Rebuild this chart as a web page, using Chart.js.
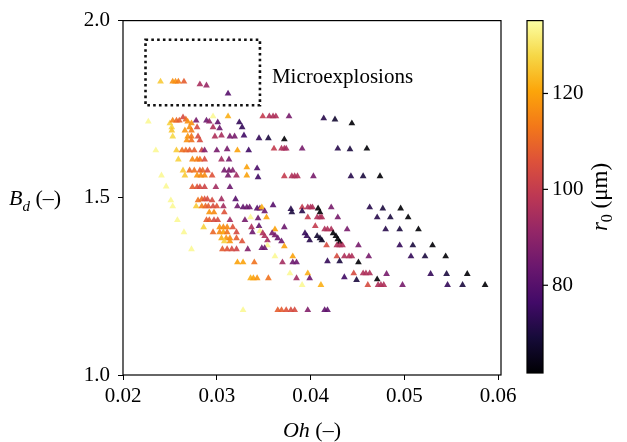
<!DOCTYPE html>
<html>
<head>
<meta charset="utf-8">
<script src="https://cdn.jsdelivr.net/npm/chart.js@4.4.1/dist/chart.umd.min.js"></script>
<style>
  html, body { margin: 0; padding: 0; background: #fff; }
  canvas { display: block; }
</style>
</head>
<body>
<canvas id="bdChart" width="627" height="442"></canvas>
<script>
// Oh number, breakup parameter B_d and droplet radius r0 (um), one entry per droplet
const ohValues = [
  0.0240, 0.0253, 0.0256, 0.0259, 0.0265, 0.0282, 0.0289, 0.0312,
  0.0227, 0.0250, 0.0253, 0.0257, 0.0260, 0.0264, 0.0267, 0.0269, 0.0273, 0.0278, 0.0289, 0.0292, 0.0296, 0.0301, 0.0312, 0.0324, 0.0349, 0.0356, 0.0360, 0.0363, 0.0377, 0.0414, 0.0426, 0.0444,
  0.0252, 0.0252, 0.0266, 0.0271, 0.0273, 0.0279, 0.0296, 0.0303, 0.0327,
  0.0253, 0.0269, 0.0273, 0.0280, 0.0268, 0.0273, 0.0282, 0.0298, 0.0305, 0.0314, 0.0319, 0.0329, 0.0345, 0.0355, 0.0372,
  0.0235, 0.0257, 0.0263, 0.0267, 0.0271, 0.0276, 0.0284, 0.0287, 0.0300, 0.0311, 0.0322, 0.0334, 0.0361, 0.0369, 0.0372, 0.0374, 0.0391, 0.0429, 0.0442, 0.0460,
  0.0259, 0.0274, 0.0279, 0.0282, 0.0287, 0.0305, 0.0313,
  0.0264, 0.0271, 0.0276, 0.0282, 0.0285, 0.0290, 0.0308, 0.0313, 0.0317, 0.0332, 0.0332, 0.0343,
  0.0241, 0.0266, 0.0279, 0.0283, 0.0287, 0.0295, 0.0312, 0.0321, 0.0344, 0.0372, 0.0380, 0.0383, 0.0386, 0.0403, 0.0443, 0.0456, 0.0474,
  0.0246, 0.0274, 0.0279, 0.0282, 0.0287, 0.0299, 0.0314,
  0.0251, 0.0280, 0.0284, 0.0287, 0.0290, 0.0295, 0.0305, 0.0320,
  0.0253, 0.0278, 0.0284, 0.0288, 0.0291, 0.0296, 0.0300, 0.0307, 0.0322, 0.0328, 0.0332, 0.0335, 0.0343, 0.0346, 0.0348, 0.0351, 0.0360, 0.0379, 0.0380, 0.0391, 0.0391, 0.0397, 0.0400, 0.0402, 0.0408, 0.0410, 0.0422, 0.0463, 0.0477, 0.0496, 0.0292, 0.0297, 0.0308,
  0.0258, 0.0289, 0.0292, 0.0297, 0.0301, 0.0314, 0.0330, 0.0344, 0.0336, 0.0353, 0.0397, 0.0407, 0.0410, 0.0412, 0.0429, 0.0471, 0.0485, 0.0504,
  0.0286, 0.0303, 0.0307, 0.0311, 0.0317, 0.0337, 0.0345, 0.0372, 0.0405, 0.0265, 0.0296, 0.0303, 0.0307, 0.0311, 0.0321, 0.0338, 0.0346, 0.0362, 0.0415, 0.0418, 0.0422, 0.0439, 0.0480, 0.0495, 0.0515,
  0.0349, 0.0351, 0.0354, 0.0359, 0.0362, 0.0365, 0.0369, 0.0394, 0.0396, 0.0399, 0.0407, 0.0410, 0.0412, 0.0424, 0.0427, 0.0429, 0.0431, 0.0305, 0.0310, 0.0314, 0.0321, 0.0308, 0.0314, 0.0327,
  0.0354, 0.0372, 0.0417, 0.0428, 0.0431, 0.0434, 0.0451, 0.0495, 0.0509, 0.0530, 0.0348, 0.0351, 0.0273, 0.0306, 0.0311, 0.0316, 0.0321, 0.0333,
  0.0362, 0.0381, 0.0428, 0.0436, 0.0441, 0.0444, 0.0462, 0.0507, 0.0522, 0.0544,
  0.0322, 0.0328, 0.0340, 0.0370, 0.0381, 0.0385, 0.0418, 0.0431, 0.0451,
  0.0378, 0.0397, 0.0446, 0.0456, 0.0459, 0.0463, 0.0481, 0.0528, 0.0545, 0.0567, 0.0336, 0.0339, 0.0343, 0.0355, 0.0385, 0.0399, 0.0436, 0.0449, 0.0471,
  0.0391, 0.0411, 0.0461, 0.0472, 0.0475, 0.0478, 0.0498, 0.0546, 0.0562, 0.0586,
  0.0328, 0.0365, 0.0369, 0.0374, 0.0379, 0.0383, 0.0397, 0.0415, 0.0418
];
const bdValues = [
  1.828, 1.828, 1.828, 1.828, 1.828, 1.820, 1.817, 1.794,
  1.715, 1.710, 1.718, 1.718, 1.718, 1.727, 1.721, 1.715, 1.710, 1.718, 1.718, 1.715, 1.730, 1.713, 1.730, 1.713, 1.730, 1.730, 1.730, 1.730, 1.730, 1.724, 1.721, 1.710,
  1.699, 1.690, 1.690, 1.699, 1.690, 1.699, 1.699, 1.696, 1.699,
  1.673, 1.673, 1.673, 1.673, 1.662, 1.662, 1.662, 1.673, 1.676, 1.673, 1.673, 1.676, 1.668, 1.668, 1.665,
  1.634, 1.634, 1.634, 1.634, 1.634, 1.634, 1.634, 1.634, 1.634, 1.637, 1.634, 1.634, 1.639, 1.639, 1.639, 1.639, 1.639, 1.639, 1.637, 1.639,
  1.608, 1.608, 1.608, 1.608, 1.608, 1.608, 1.608,
  1.577, 1.577, 1.577, 1.577, 1.577, 1.577, 1.577, 1.577, 1.577, 1.586, 1.563, 1.583,
  1.563, 1.563, 1.563, 1.563, 1.563, 1.563, 1.563, 1.563, 1.558, 1.561, 1.561, 1.561, 1.561, 1.561, 1.561, 1.561, 1.561,
  1.532, 1.530, 1.530, 1.530, 1.530, 1.530, 1.530,
  1.493, 1.493, 1.496, 1.496, 1.496, 1.493, 1.496, 1.496,
  1.476, 1.476, 1.476, 1.476, 1.476, 1.476, 1.476, 1.476, 1.476, 1.473, 1.473, 1.473, 1.470, 1.470, 1.473, 1.462, 1.479, 1.468, 1.459, 1.473, 1.462, 1.473, 1.473, 1.473, 1.470, 1.459, 1.473, 1.473, 1.470, 1.470, 1.459, 1.459, 1.459,
  1.437, 1.437, 1.437, 1.437, 1.437, 1.437, 1.437, 1.442, 1.445, 1.445, 1.445, 1.445, 1.445, 1.445, 1.445, 1.445, 1.445, 1.445,
  1.417, 1.417, 1.417, 1.417, 1.417, 1.417, 1.420, 1.417, 1.420, 1.403, 1.403, 1.403, 1.403, 1.403, 1.403, 1.403, 1.406, 1.411, 1.411, 1.411, 1.411, 1.411, 1.411, 1.411, 1.411,
  1.400, 1.392, 1.380, 1.400, 1.394, 1.386, 1.377, 1.400, 1.392, 1.380, 1.392, 1.386, 1.380, 1.400, 1.392, 1.383, 1.375, 1.386, 1.386, 1.386, 1.386, 1.377, 1.377, 1.377,
  1.366, 1.363, 1.366, 1.366, 1.366, 1.366, 1.366, 1.366, 1.366, 1.366, 1.358, 1.358, 1.355, 1.355, 1.355, 1.355, 1.355, 1.355,
  1.335, 1.335, 1.335, 1.335, 1.335, 1.335, 1.335, 1.335, 1.335, 1.335,
  1.318, 1.318, 1.318, 1.318, 1.318, 1.318, 1.321, 1.321, 1.318,
  1.287, 1.287, 1.287, 1.287, 1.287, 1.287, 1.285, 1.285, 1.285, 1.285, 1.273, 1.273, 1.273, 1.273, 1.273, 1.273, 1.276, 1.268, 1.270,
  1.254, 1.254, 1.254, 1.254, 1.254, 1.254, 1.254, 1.254, 1.254, 1.254,
  1.183, 1.183, 1.183, 1.183, 1.183, 1.183, 1.183, 1.183, 1.183
];
const r0Values = [
  126, 117, 117, 114, 108, 95, 92, 80,
  134, 127, 115, 110, 108, 104, 110, 117, 117, 86, 84, 90, 134, 82, 122, 74, 100, 96, 96, 96, 86, 72, 68, 62,
  127, 125, 118, 117, 114, 104, 96, 84, 74,
  128, 118, 113, 104, 117, 112, 104, 96, 95, 86, 86, 76, 74, 70, 62,
  134, 126, 112, 110, 108, 108, 102, 88, 86, 86, 120, 76, 100, 96, 96, 94, 86, 72, 70, 62,
  127, 116, 114, 112, 104, 94, 86,
  126, 110, 112, 108, 110, 104, 86, 86, 88, 120, 120, 78,
  134, 126, 118, 116, 116, 106, 86, 94, 76, 100, 96, 96, 96, 86, 72, 70, 62,
  134, 108, 106, 104, 102, 94, 84,
  134, 112, 110, 106, 104, 104, 94, 80,
  134, 126, 114, 110, 108, 104, 106, 94, 84, 82, 84, 84, 80, 84, 122, 84, 80, 72, 70, 100, 72, 96, 96, 96, 62, 62, 86, 72, 70, 62, 118, 116, 106,
  134, 108, 108, 104, 104, 94, 86, 84, 134, 120, 100, 96, 96, 96, 86, 72, 70, 62,
  127, 118, 116, 116, 106, 96, 82, 84, 100, 134, 110, 116, 120, 112, 104, 84, 134, 120, 96, 96, 96, 86, 72, 70, 62,
  96, 96, 94, 86, 86, 84, 84, 74, 74, 72, 68, 68, 66, 62, 62, 62, 62, 122, 118, 116, 108, 127, 118, 106,
  134, 120, 104, 96, 96, 96, 86, 74, 70, 62, 84, 84, 134, 108, 106, 104, 102, 88,
  134, 120, 104, 96, 96, 96, 86, 74, 70, 62,
  120, 120, 112, 94, 84, 84, 74, 70, 62,
  134, 122, 104, 96, 96, 96, 86, 74, 70, 62, 122, 120, 118, 112, 94, 84, 76, 70, 62,
  134, 122, 104, 96, 96, 96, 86, 74, 70, 62,
  134, 108, 108, 106, 104, 104, 88, 82, 82
];

const xTickValues = [0.02, 0.03, 0.04, 0.05, 0.06];
const yTickValues = [1.0, 1.5, 2.0];
const colorbarTicks = [80, 100, 120];
const r0Min = 61.7;
const r0Max = 135.2;

// region highlighted as microexplosions (Oh / B_d bounds)
const boxOh = [0.0224, 0.0346];
const boxBd = [1.761, 1.946];

const SERIF = '"Liberation Serif", "DejaVu Serif", serif';

// matplotlib "inferno", sampled every 0.1
const inferno = [
  [0, 0, 4], [22, 11, 57], [66, 10, 104], [106, 23, 110], [147, 38, 103],
  [188, 55, 84], [221, 81, 58], [243, 120, 25], [252, 165, 10], [246, 215, 70], [252, 255, 164]
];

function infernoAt(t) {
  t = Math.max(0, Math.min(1, t));
  const f = t * (inferno.length - 1);
  const i = Math.min(Math.floor(f), inferno.length - 2);
  const k = f - i;
  return inferno[i].map((c, j) => Math.round(c + (inferno[i + 1][j] - c) * k));
}

function r0Color(v, alpha) {
  const [r, g, b] = infernoAt((v - r0Min) / (r0Max - r0Min));
  return `rgba(${r},${g},${b},${alpha})`;
}

function partsWidth(ctx, parts) {
  let w = 0;
  for (const [text, font] of parts) {
    ctx.font = font;
    w += ctx.measureText(text).width;
  }
  return w;
}

function drawParts(ctx, parts, x, y) {
  let cx = x;
  for (const [text, font, dy] of parts) {
    ctx.font = font;
    ctx.fillText(text, cx, y + dy);
    cx += ctx.measureText(text).width;
  }
}

const decorations = {
  id: 'decorations',
  afterDraw(chart) {
    const { ctx, chartArea: a, scales: { x, y } } = chart;
    ctx.save();
    ctx.fillStyle = '#000';
    ctx.strokeStyle = '#000';

    // axes frame
    ctx.lineWidth = 1.2;
    ctx.strokeRect(a.left, a.top, a.right - a.left, a.bottom - a.top);

    // dotted box round the microexplosion cases
    const bx0 = x.getPixelForValue(boxOh[0]), bx1 = x.getPixelForValue(boxOh[1]);
    const by0 = y.getPixelForValue(boxBd[1]), by1 = y.getPixelForValue(boxBd[0]);
    ctx.lineWidth = 2.6;
    ctx.setLineDash([2.6, 3.2]);
    ctx.strokeStyle = '#111';
    ctx.strokeRect(bx0, by0, bx1 - bx0, by1 - by0);
    ctx.setLineDash([]);

    ctx.textAlign = 'left';
    ctx.textBaseline = 'alphabetic';
    ctx.font = `21px ${SERIF}`;
    ctx.fillText('Microexplosions', bx1 + 12, y.getPixelForValue(1.845) + 7);

    // axis titles
    const big = `22px ${SERIF}`;
    const bigIt = `italic 22px ${SERIF}`;
    const smallIt = `italic 15px ${SERIF}`;
    drawParts(ctx, [['B', bigIt, 0], ['d', smallIt, 6], [' (\u2013)', big, 0]], 9, 205);
    const xt = [['Oh', bigIt, 0], [' (\u2013)', big, 0]];
    const xw = partsWidth(ctx, xt);
    drawParts(ctx, xt, (a.left + a.right) / 2 - xw / 2, 437);

    // colorbar
    const cbL = 527, cbR = 543, cbT = a.top, cbB = 373;
    const grad = ctx.createLinearGradient(0, cbB, 0, cbT);
    inferno.forEach((c, i) => grad.addColorStop(i / (inferno.length - 1), `rgb(${c[0]},${c[1]},${c[2]})`));
    ctx.fillStyle = grad;
    ctx.fillRect(cbL, cbT, cbR - cbL, cbB - cbT);
    ctx.lineWidth = 1.2;
    ctx.strokeStyle = '#000';
    ctx.strokeRect(cbL, cbT, cbR - cbL, cbB - cbT);
    ctx.fillStyle = '#000';
    ctx.font = `21px ${SERIF}`;
    ctx.textBaseline = 'middle';
    for (const v of colorbarTicks) {
      const py = cbB - (v - r0Min) / (r0Max - r0Min) * (cbB - cbT);
      ctx.beginPath();
      ctx.moveTo(cbR, py);
      ctx.lineTo(cbR + 5, py);
      ctx.stroke();
      ctx.fillText(String(v), cbR + 9, py);
    }

    ctx.textBaseline = 'alphabetic';
    ctx.translate(600, 197);
    ctx.rotate(-Math.PI / 2);
    const cl = [['r', `italic 23px ${SERIF}`, 0], ['0', `16px ${SERIF}`, 5], [' (\u03bcm)', `23px ${SERIF}`, 0]];
    const cw = partsWidth(ctx, cl);
    drawParts(ctx, cl, -cw / 2, 7);
    ctx.restore();
  }
};

const points = ohValues.map((oh, i) => ({ x: oh, y: bdValues[i] }));

new Chart(document.getElementById('bdChart'), {
  type: 'scatter',
  data: {
    datasets: [{
      data: points,
      pointStyle: 'triangle',
      pointRadius: 3.9,
      pointBorderWidth: 0,
      pointBackgroundColor: r0Values.map(v => r0Color(v, 0.9))
    }]
  },
  options: {
    responsive: false,
    animation: false,
    events: [],
    layout: { padding: { left: 0, right: 126, top: 20, bottom: 0 } },
    plugins: { legend: { display: false }, tooltip: { enabled: false } },
    scales: {
      x: {
        type: 'linear',
        min: 0.02,
        max: 0.0603,
        afterBuildTicks: axis => { axis.ticks = xTickValues.map(v => ({ value: v })); },
        afterFit: axis => { axis.height = 67; },
        border: { display: false },
        grid: { drawOnChartArea: false, drawTicks: true, tickLength: 5, color: '#000' },
        ticks: {
          color: '#000',
          padding: 4,
          maxRotation: 0,
          font: { family: SERIF, size: 21 },
          callback: v => Number(v).toFixed(2)
        }
      },
      y: {
        type: 'linear',
        min: 1.0,
        max: 2.0,
        afterBuildTicks: axis => { axis.ticks = yTickValues.map(v => ({ value: v })); },
        afterFit: axis => { axis.width = 123; },
        border: { display: false },
        grid: { drawOnChartArea: false, drawTicks: true, tickLength: 5, color: '#000' },
        ticks: {
          color: '#000',
          padding: 8,
          font: { family: SERIF, size: 21 },
          callback: v => Number(v).toFixed(1)
        }
      }
    }
  },
  plugins: [decorations]
});
</script>
</body>
</html>
